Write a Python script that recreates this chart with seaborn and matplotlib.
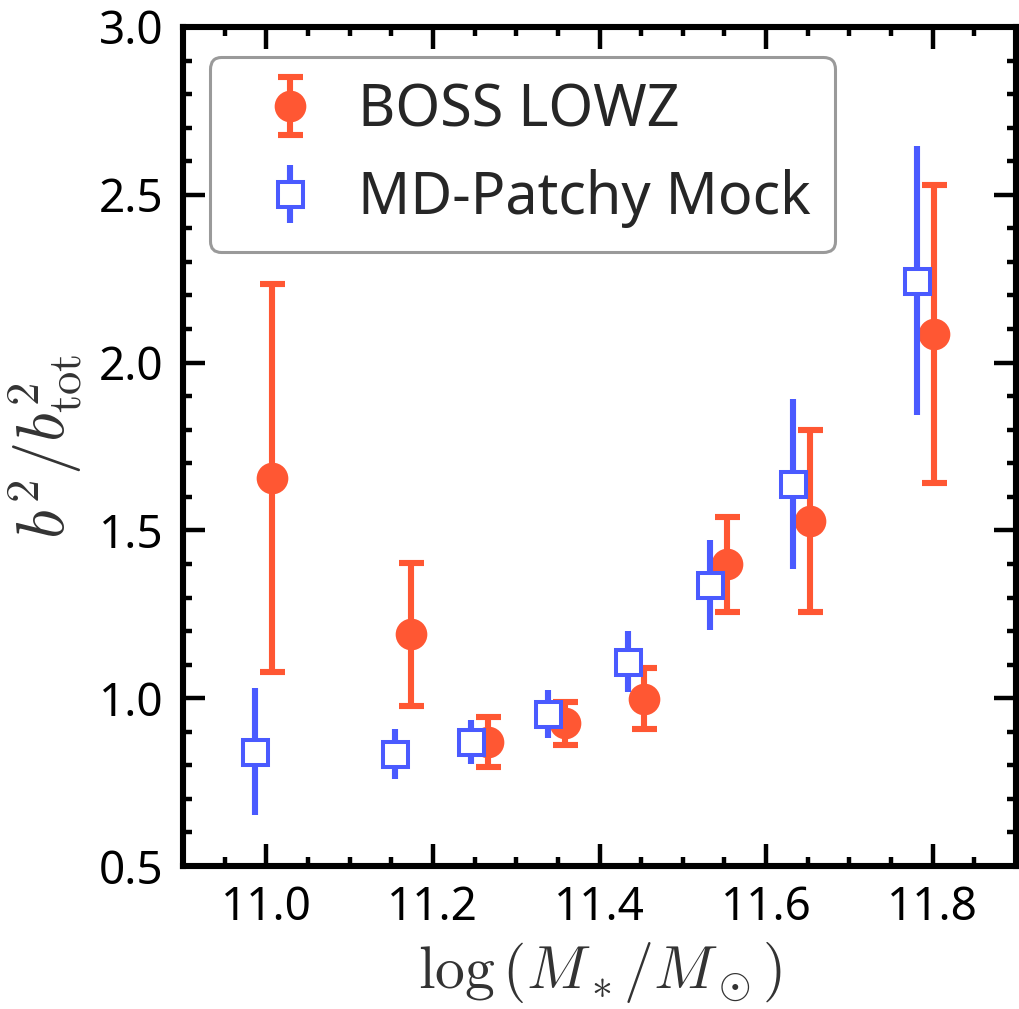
import numpy as np
import pandas as pd
import seaborn as sns
import matplotlib
matplotlib.use("Agg")
import matplotlib.pyplot as plt
from matplotlib.ticker import MultipleLocator

# Stellar-mass bins and relative bias b^2 / b_tot^2
lowz_logm = [11.007, 11.174, 11.266, 11.358, 11.454, 11.553, 11.653, 11.801]
lowz_bias = [1.655, 1.190, 0.870, 0.925, 0.999, 1.399, 1.528, 2.085]
lowz_err = [0.578, 0.212, 0.075, 0.064, 0.092, 0.141, 0.271, 0.443]

mock_logm = [10.987, 11.154, 11.246, 11.338, 11.434, 11.533, 11.632, 11.781]
mock_bias = [0.841, 0.834, 0.870, 0.953, 1.109, 1.337, 1.638, 2.244]
mock_err = [0.188, 0.074, 0.065, 0.071, 0.090, 0.135, 0.254, 0.400]

series_labels = ["BOSS LOWZ", "MD-Patchy Mock"]
x_ticks = [11.0, 11.2, 11.4, 11.6, 11.8]
y_ticks = [0.5, 1.0, 1.5, 2.0, 2.5, 3.0]

lowz = pd.DataFrame({"logm": lowz_logm, "bias": lowz_bias, "err": lowz_err})
mock = pd.DataFrame({"logm": mock_logm, "bias": mock_bias, "err": mock_err})

sns.set_theme(style="ticks")
plt.rcParams["font.family"] = ["Noto Sans", "DejaVu Sans"]
plt.rcParams["mathtext.fontset"] = "cm"

c_lowz = "#FF5733"
c_mock = "#4A5AFF"

fig = plt.figure(figsize=(1019 / 200, 1009 / 200), dpi=200)
ax = fig.add_axes([183 / 1019, 143 / 1009, 833 / 1019, 839 / 1009])

ax.errorbar(lowz["logm"], lowz["bias"], yerr=lowz["err"], fmt="o",
            color=c_lowz, ms=10.4, elinewidth=2.2, capsize=4.5, capthick=2.2,
            label=series_labels[0], zorder=3)
ax.errorbar(mock["logm"], mock["bias"], yerr=mock["err"], fmt="s",
            color=c_mock, mfc="white", mec=c_mock, mew=1.45, ms=9,
            elinewidth=2.2, capsize=0, label=series_labels[1], zorder=4)

ax.set_xlim(10.9, 11.9)
ax.set_ylim(0.5, 3.0)
ax.set_xticks(x_ticks)
ax.set_yticks(y_ticks)
ax.set_xticklabels([f"{v:.1f}" for v in x_ticks])
ax.set_yticklabels([f"{v:.1f}" for v in y_ticks])
ax.xaxis.set_minor_locator(MultipleLocator(0.05))
ax.yaxis.set_minor_locator(MultipleLocator(0.1))

ax.tick_params(which="both", direction="in", top=True, right=True,
               colors="black", labelsize=16.5, pad=7)
ax.tick_params(which="major", length=7.8, width=1.6)
ax.tick_params(which="minor", length=3.4, width=1.6)
for sp in ax.spines.values():
    sp.set_linewidth(2.2)
    sp.set_color("black")

ax.set_xlabel(r"$\log\left(M_*/M_\odot\right)$", fontsize=21.5, labelpad=3,
              color="#333333")
ax.set_ylabel(r"$b^2/b^2_{\rm tot}$", fontsize=24, labelpad=5,
              color="#333333")

leg = ax.legend(loc="upper left", bbox_to_anchor=(0.0324, 0.964),
                borderaxespad=0, fontsize=20.7, frameon=True, fancybox=True,
                framealpha=1, edgecolor="#9a9a9a", borderpad=0.42,
                handlelength=1.95, handletextpad=0.2, labelspacing=0.5)
leg.get_frame().set_linewidth(1.1)
for t in leg.get_texts():
    t.set_color("#262626")

fig.savefig("out.png", dpi=200)
